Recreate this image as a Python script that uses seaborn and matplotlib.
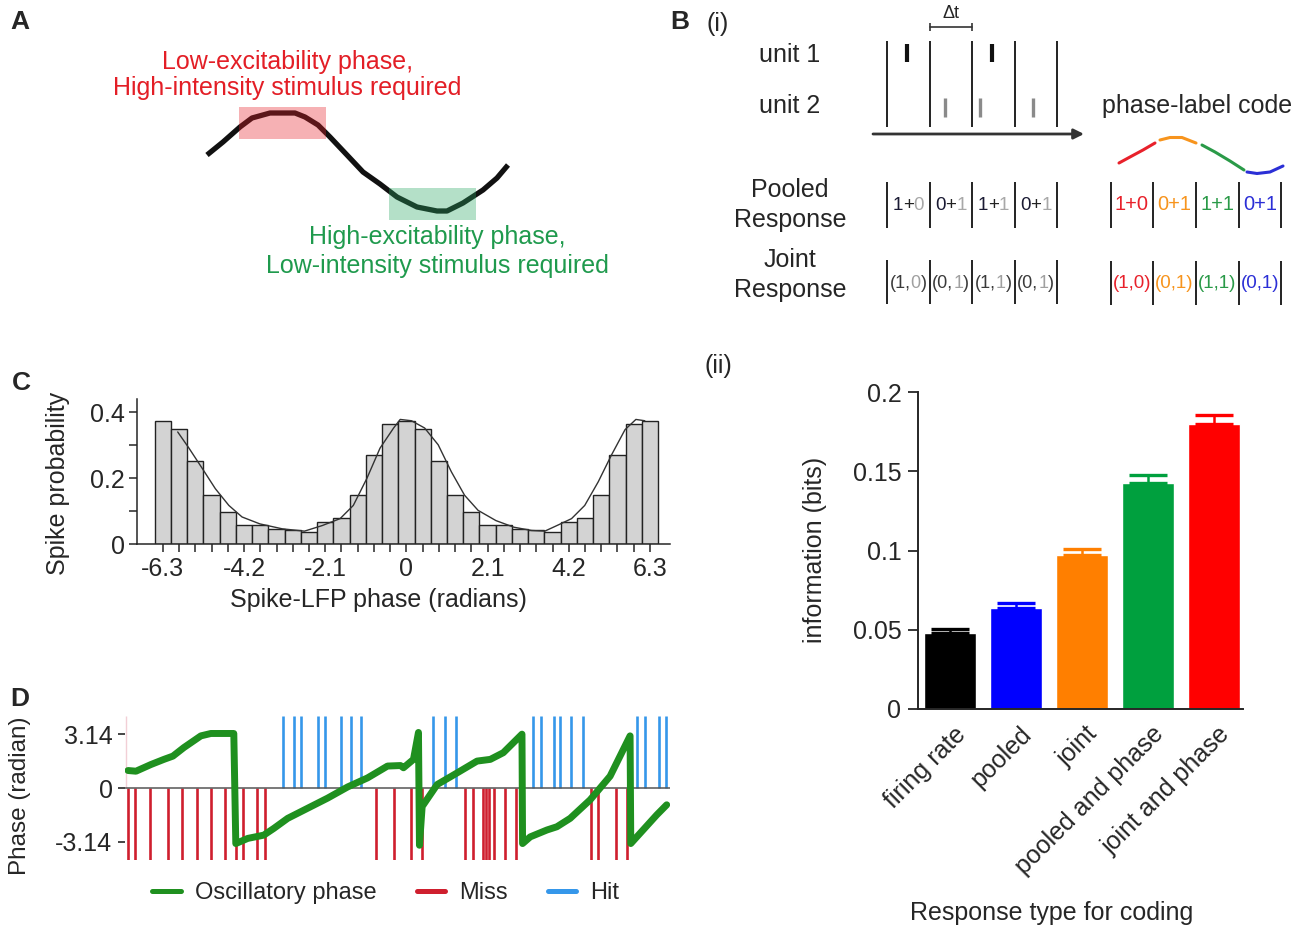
import matplotlib
matplotlib.use('Agg')
import matplotlib.pyplot as plt
from matplotlib.patches import Rectangle
from matplotlib.lines import Line2D
from matplotlib.transforms import ScaledTranslation
import numpy as np
import pandas as pd
import seaborn as sns

sns.set_style('ticks')
plt.rcParams['font.family'] = ['Liberation Sans', 'DejaVu Sans']
plt.rcParams['font.size'] = 18

# ---------------- DATA ----------------
# Panel A: schematic oscillation (pixel space)
osc_x = [207, 223, 240, 252, 270, 295, 305, 318, 330, 347, 363, 380, 397, 417, 437, 447, 463, 483, 497, 508]
osc_y = [155, 142, 127, 118, 113, 113, 117, 125, 137, 155, 172, 184, 197, 207, 211, 211, 203, 190, 178, 165]

# Panel B(i): spike raster in bin units (4 bins of width dt)
n_bins = 4
unit1_spikes = [0.47, 2.47]
unit2_spikes = [1.36, 2.19, 3.44]
phase_colors = ['#e8212b', '#f7941d', '#2a9a48', '#2b2fd6']

# Panel C: spike-LFP phase histogram
phase_bin_index = list(range(-15, 16))
spike_prob = [0.374, 0.349, 0.252, 0.150, 0.096, 0.059, 0.059, 0.046, 0.041, 0.036,
              0.068, 0.079, 0.150, 0.270, 0.364, 0.374, 0.349, 0.252, 0.150, 0.096,
              0.059, 0.059, 0.046, 0.041, 0.036, 0.068, 0.079, 0.150, 0.270, 0.364, 0.374]
fit_phase = [-5.90, -5.61, -5.27, -4.93, -4.58, -4.24, -3.78, -3.20, -2.63, -2.17, -1.71,
             -1.37, -1.02, -0.68, -0.33, -0.16, 0.13, 0.47, 0.82, 1.16, 1.50, 1.85, 2.31,
             2.77, 3.23, 3.57, 3.92, 4.26, 4.60, 4.95, 5.29, 5.64, 5.92, 6.15]
fit_prob = [0.340, 0.291, 0.230, 0.168, 0.117, 0.082, 0.061, 0.046, 0.039, 0.056, 0.077,
            0.117, 0.199, 0.291, 0.352, 0.378, 0.374, 0.352, 0.301, 0.219, 0.148, 0.102,
            0.071, 0.051, 0.041, 0.039, 0.058, 0.077, 0.117, 0.189, 0.270, 0.347, 0.378, 0.374]
phase_tick_labels = ['-6.3', '-4.2', '-2.1', '0', '2.1', '4.2', '6.3']

# Panel D: oscillatory phase and trial outcomes over time
osc_time = [2, 10, 25, 38, 47, 58, 75, 85, 108, 110, 122, 138, 148, 162, 182, 202, 222, 242,
            262, 275, 278, 288, 293, 294, 296.7, 311.7, 331.7, 351.7, 365, 378, 396.7, 397.3,
            405, 421.7, 431.7, 445, 465, 485, 505, 505.7, 518, 531.7, 541.7]
osc_phase = [1.02, 0.98, 1.37, 1.67, 1.86, 2.36, 3.04, 3.18, 3.18, -3.24, -2.94, -2.75, -2.36,
             -1.77, -1.18, -0.59, 0.06, 0.59, 1.28, 1.31, 1.18, 1.67, 3.24, -3.34, -1.08, 0.20,
             0.88, 1.57, 1.67, 2.06, 3.14, -3.24, -2.85, -2.45, -2.26, -1.77, -0.69, 0.69, 3.04,
             -3.24, -2.45, -1.57, -0.98]
miss_times = [2.3, 9.3, 24, 41.7, 56, 70.7, 85, 99.3, 110.7, 117.7, 131.7, 139, 250.3, 268.3,
              286, 296.7, 340, 347.7, 357.5, 360.5, 363.5, 369, 380, 390.7, 466, 472.7, 491, 501.7]
hit_times = [157.7, 168.3, 175.7, 192.3, 199, 215.7, 225, 235.7, 307.3, 320, 330.7, 407.7,
             416, 428.3, 435, 445.7, 457.7, 511.7, 520, 534.3, 541]

# Panel B(ii): information per response type
response_types = ['firing rate', 'pooled', 'joint', 'pooled and phase', 'joint and phase']
info_bits = [0.048, 0.064, 0.097, 0.1425, 0.1795]
info_err = [0.0022, 0.003, 0.0038, 0.0052, 0.006]
bar_colors = ['#000000', '#0000ff', '#ff7f00', '#00a03e', '#ff0000']

# ---------------- FIGURE ----------------
W, H = 1300, 934
fig = plt.figure(figsize=(W / 100, H / 100), dpi=100)
ov = fig.add_axes([0, 0, 1, 1])
ov.set_xlim(0, W)
ov.set_ylim(H, 0)
ov.axis('off')
renderer = fig.canvas.get_renderer()


def px_axes(x0, y0, x1, y1):
    return fig.add_axes([x0 / W, 1 - y1 / H, (x1 - x0) / W, (y1 - y0) / H])


def multicolor(xc, y, parts, size):
    ts = [ov.text(0, y, s, color=c, fontsize=size, ha='left', va='center') for s, c in parts]
    ws = [t.get_window_extent(renderer).width for t in ts]
    x = xc - sum(ws) / 2
    for t, w in zip(ts, ws):
        t.set_x(x)
        x += w


# panel letters
for lab, (x, y) in {'A': (20, 22), 'B': (680, 22), 'C': (21, 383), 'D': (20, 699)}.items():
    ov.text(x, y, lab, fontsize=19, fontweight='bold', ha='center', va='center')
ov.text(718, 24, '(i)', fontsize=18, ha='center', va='center')
ov.text(718, 366, '(ii)', fontsize=18, ha='center', va='center')

# ---------------- Panel A ----------------
red_txt = '#e31e26'
grn_txt = '#1f9a4d'
ov.plot(osc_x, osc_y, color='#111111', lw=3.8, solid_capstyle='butt',
        solid_joinstyle='round', zorder=2)
ov.add_patch(Rectangle((239, 107), 87, 32, color='#e8202a', alpha=0.35, lw=0, zorder=3))
ov.add_patch(Rectangle((389, 188), 87, 32, color='#2aa864', alpha=0.35, lw=0, zorder=3))
ov.text(287, 62, 'Low-excitability phase,', color=red_txt, ha='center', va='center')
ov.text(287, 88, 'High-intensity stimulus required', color=red_txt, ha='center', va='center')
ov.text(437, 237, 'High-excitability phase,', color=grn_txt, ha='center', va='center')
ov.text(437, 266, 'Low-intensity stimulus required', color=grn_txt, ha='center', va='center')

# ---------------- Panel B(i) ----------------
bx0, bdx = 887, 42.5
bin_px = [bx0 + i * bdx for i in range(n_bins + 1)]
ov.vlines(bin_px, 41, 127, color='#222222', lw=1.4)
ov.vlines([bx0 + s * bdx for s in unit1_spikes], 44, 62, color='#111111', lw=3)
ov.vlines([bx0 + s * bdx for s in unit2_spikes], 98, 117, color='#8a8a8a', lw=2.4)
ov.annotate('', xy=(1084, 134), xytext=(873, 134),
            arrowprops=dict(arrowstyle='-|>', color='#333333', lw=2, mutation_scale=15,
                            shrinkA=0, shrinkB=0))
ov.plot([bin_px[1], bin_px[2]], [27, 27], color='#333333', lw=1.2)
ov.vlines([bin_px[1], bin_px[2]], 23, 31, color='#333333', lw=1.2)
ov.text((bin_px[1] + bin_px[2]) / 2, 13, 'Δt', fontsize=13, ha='center', va='center')
ov.text(790, 55, 'unit 1', ha='center', va='center')
ov.text(790, 106, 'unit 2', ha='center', va='center')
ov.text(1197, 106, 'phase-label code', ha='center', va='center')
ov.text(790, 190, 'Pooled', ha='center', va='center')
ov.text(790, 220, 'Response', ha='center', va='center')
ov.text(790, 260, 'Joint', ha='center', va='center')
ov.text(790, 290, 'Response', ha='center', va='center')

# colored phase-label waveform segments
seg_x = [[1119, 1130, 1143, 1155], [1160, 1170, 1182, 1196],
         [1202, 1215, 1230, 1244], [1247, 1257, 1270, 1283]]
seg_y = [[163, 157, 150, 143], [140, 137.5, 137.5, 143],
         [145, 152, 161, 170], [172, 173.5, 172, 166]]
for xs, ys, c in zip(seg_x, seg_y, phase_colors):
    ov.plot(xs, ys, color=c, lw=2.2, solid_capstyle='round', solid_joinstyle='round')

counts1 = np.histogram(unit1_spikes, bins=np.arange(n_bins + 1))[0]
counts2 = np.histogram(unit2_spikes, bins=np.arange(n_bins + 1))[0]
rbx0, rbdx = 1110.5, 42.7
rbin_px = [rbx0 + i * rbdx for i in range(n_bins + 1)]
ov.vlines(bin_px, 182, 228, color='#222222', lw=1.4)
ov.vlines(bin_px, 260, 304, color='#222222', lw=1.4)
ov.vlines(rbin_px, 182, 228, color='#222222', lw=1.4)
ov.vlines(rbin_px, 261, 305, color='#222222', lw=1.4)
for i in range(n_bins):
    a, b = str(counts1[i]), str(counts2[i])
    xc = (bin_px[i] + bin_px[i + 1]) / 2
    multicolor(xc, 205, [(a, '#1a1a33'), ('+', '#222222'), (b, '#a8a8a8')], 13.5)
    multicolor(xc, 283, [('(' + a + ',', '#3a3a3a'), (b, '#a0a0a0'), (')', '#3a3a3a')], 13)
    rxc = (rbin_px[i] + rbin_px[i + 1]) / 2
    ov.text(rxc, 205, f'{a}+{b}', color=phase_colors[i], fontsize=14.5, ha='center', va='center')
    ov.text(rxc, 284, f'({a},{b})', color=phase_colors[i], fontsize=13.5, ha='center', va='center')

# ---------------- Panel C ----------------
bw = 2 * np.pi / 15
centers = np.array(phase_bin_index) * bw
dfC = pd.DataFrame({'phase': centers, 'prob': spike_prob})
axC = px_axes(137, 399, 670, 544)
sns.barplot(data=dfC, x='phase', y='prob', native_scale=True, width=1, color='#d3d3d3',
            saturation=1, edgecolor='#222222', linewidth=1, errorbar=None, ax=axC)
sns.lineplot(x=fit_phase, y=fit_prob, ax=axC, color='#333333', lw=1, sort=False, estimator=None)
axC.set_xlim(-6.95, 6.8)
axC.set_ylim(0, 0.44)
axC.set_xticks(centers[::5])
axC.set_xticklabels(phase_tick_labels)
axC.set_xticks(centers, minor=True)
axC.set_yticks([0, 0.2, 0.4])
axC.set_yticklabels(['0', '0.2', '0.4'])
axC.set_yticks([0.1, 0.3], minor=True)
axC.tick_params(which='both', direction='out', length=6, width=1.1, labelsize=18, pad=3)
axC.set_xlabel('')
axC.set_ylabel('')
sns.despine(ax=axC)
for s in axC.spines.values():
    s.set_linewidth(1.1)
ov.text(58, 483, 'Spike probability', rotation=90, ha='center', va='center')
ov.text(378, 600, 'Spike-LFP phase (radians)', ha='center', va='center')

# ---------------- Panel D ----------------
axD = px_axes(125, 716, 670, 860)
miss_c, hit_c, osc_c = '#cf1f2e', '#3597ea', '#1f901f'
axD.vlines(miss_times, -4.2, 0, color=miss_c, lw=1.9, zorder=1)
axD.vlines(hit_times, 0, 4.2, color=hit_c, lw=1.9, zorder=1)
axD.axhline(0, color='#555555', lw=1.1, zorder=2)
axD.vlines([0], 0, 4.2, color='#f2cfd6', lw=1, zorder=1)
sns.lineplot(x=osc_time, y=osc_phase, ax=axD, color=osc_c, lw=5, sort=False, estimator=None,
             solid_joinstyle='round', solid_capstyle='round', zorder=3)
axD.set_xlim(-1, 545)
axD.set_ylim(-4.2, 4.2)
axD.set_yticks([3.14, 0, -3.14])
axD.set_yticklabels(['3.14', '0', '-3.14'])
axD.set_xticks([])
axD.tick_params(axis='y', direction='out', length=5, width=1.2, labelsize=18, pad=4)
for s in axD.spines.values():
    s.set_visible(False)
axD.set_xlabel('')
axD.set_ylabel('')
ov.text(20, 796, 'Phase (radian)', rotation=90, ha='center', va='center', fontsize=17.5)
handles = [Line2D([], [], color=osc_c, lw=3.6), Line2D([], [], color=miss_c, lw=3.6),
           Line2D([], [], color=hit_c, lw=3.6)]
fig.legend(handles, ['Oscillatory phase', 'Miss', 'Hit'], loc='center',
           bbox_to_anchor=(386 / W, 1 - 893 / H), ncol=3, frameon=False, fontsize=17,
           handlelength=1.2, columnspacing=1.7, handletextpad=0.6, borderpad=0)

# ---------------- Panel B(ii) ----------------
axB = px_axes(918, 392, 1243, 709)
df = pd.DataFrame({'type': response_types, 'info': info_bits})
sns.barplot(data=df, x='type', y='info', hue='type', palette=bar_colors, legend=False,
            width=0.8, saturation=1, errorbar=None, ax=axB)
for i, (v, e, c) in enumerate(zip(info_bits, info_err, bar_colors)):
    axB.errorbar(i, v, yerr=[[0], [e]], fmt='none', ecolor=c, elinewidth=1.8,
                 capsize=14, capthick=2.4)
axB.set_xlim(-0.485, 4.44)
axB.set_ylim(0, 0.2)
axB.set_yticks([0, 0.05, 0.1, 0.15, 0.2])
axB.set_yticklabels(['0', '0.05', '0.1', '0.15', '0.2'])
axB.tick_params(axis='y', direction='out', length=7, width=1.3, labelsize=18, pad=5)
axB.tick_params(axis='x', length=0, labelsize=18, pad=14)
shift = ScaledTranslation(12 / 100, -2 / 100, fig.dpi_scale_trans)
for lbl in axB.get_xticklabels():
    lbl.set_rotation(45)
    lbl.set_ha('right')
    lbl.set_va('center')
    lbl.set_rotation_mode('anchor')
    lbl.set_transform(lbl.get_transform() + shift)
axB.set_xlabel('')
axB.set_ylabel('')
sns.despine(ax=axB)
for s in axB.spines.values():
    s.set_linewidth(1.4)
ov.text(815, 550, 'information (bits)', rotation=90, ha='center', va='center')
ov.text(1052, 913, 'Response type for coding', ha='center', va='center')

fig.savefig('out.png', dpi=100)
